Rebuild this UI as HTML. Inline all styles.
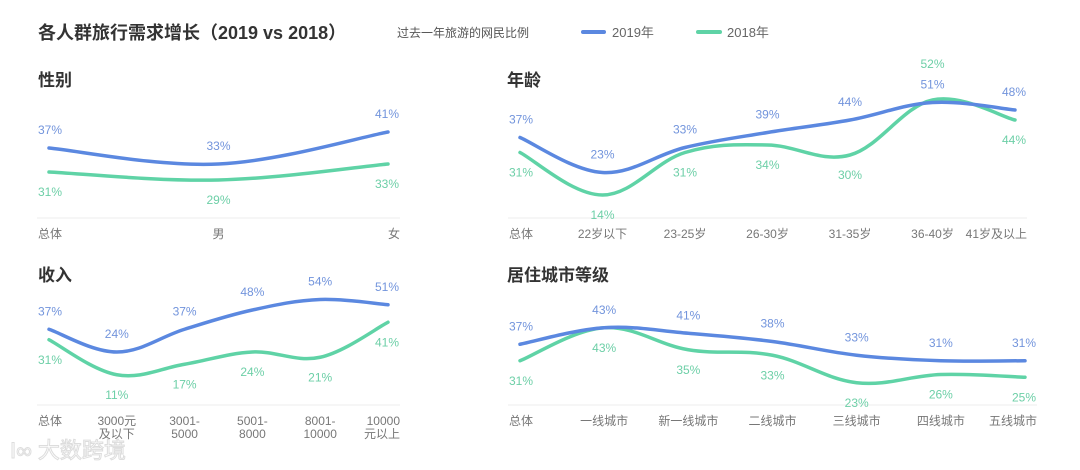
<!DOCTYPE html>
<html><head><meta charset="utf-8">
<style>
body{margin:0;background:#fff;font-family:"Liberation Sans","Noto Sans CJK SC",sans-serif;}
svg{display:block}
</style></head>
<body>
<svg id="chart" width="1080" height="470" viewBox="0 0 1080 470">
  <text x="38" y="39" font-size="18" font-weight="bold" fill="#333">各人群旅行需求增长（2019 vs 2018）</text>
  <text x="397" y="37" font-size="12" fill="#555">过去一年旅游的网民比例</text>
  <g>
    <g>
      <line x1="583" y1="32" x2="604" y2="32" stroke="#5b88e0" stroke-width="4" stroke-linecap="round"/>
      <text x="612" y="37" font-size="13" fill="#666">2019年</text>
    </g>
    <g>
      <line x1="698" y1="32" x2="720" y2="32" stroke="#5fd3a6" stroke-width="4" stroke-linecap="round"/>
      <text x="727" y="37" font-size="13" fill="#666">2018年</text>
    </g>
  </g>
  <text x="10" y="458" font-size="22" fill="#fff" stroke="#ddd" stroke-width="1">I∞ 大数跨境</text>
</svg>
<script>
// Panel 1: 性别
const genderCats = ["总体","男","女"];
const gender2019 = [37,33,41];
const gender2018 = [31,29,33];
// Panel 2: 年龄
const ageCats = ["总体","22岁以下","23-25岁","26-30岁","31-35岁","36-40岁","41岁及以上"];
const age2019 = [37,23,33,39,44,51,48];
const age2018 = [31,14,31,34,30,52,44];
// Panel 3: 收入
const incomeCats = [["总体"],["3000元","及以下"],["3001-","5000"],["5001-","8000"],["8001-","10000"],["10000","元以上"]];
const income2019 = [37,24,37,48,54,51];
const income2018 = [31,11,17,24,21,41];
// Panel 4: 居住城市等级
const cityCats = ["总体","一线城市","新一线城市","二线城市","三线城市","四线城市","五线城市"];
const city2019 = [37,43,41,38,33,31,31];
const city2018 = [31,43,35,33,23,26,25];

const svg = document.getElementById('chart');
const NS = 'http://www.w3.org/2000/svg';
const BLUE = '#5b88e0', GREEN = '#5fd3a6', BLUE_T = '#7294dc', GREEN_T = '#6dcfa7';

function mk(tag, attrs){ const e=document.createElementNS(NS,tag); for(const k in attrs) e.setAttribute(k,attrs[k]); return e; }

function smoothPath(pts){
  let d = `M${pts[0][0]},${pts[0][1]}`;
  for(let i=0;i<pts.length-1;i++){
    const p0=pts[i-1]||pts[i], p1=pts[i], p2=pts[i+1], p3=pts[i+2]||p2;
    const t=0.18;
    const c1x=p1[0]+(p2[0]-p0[0])*t, c1y=p1[1]+(p2[1]-p0[1])*t;
    const c2x=p2[0]-(p3[0]-p1[0])*t, c2y=p2[1]-(p3[1]-p1[1])*t;
    d+=` C${c1x},${c1y} ${c2x},${c2y} ${p2[0]},${p2[1]}`;
  }
  return d;
}

function panel(cfg){
  const g = mk('g',{});
  
  
  svg.appendChild(g);
  const title = mk('text',{x:cfg.tx,y:cfg.ty,'font-size':17,'font-weight':'bold',fill:'#333'});
  
  
  title.textContent = cfg.title;
  g.appendChild(title);
  const n = cfg.cats.length;
  const xS = i => cfg.x0 + (cfg.x1-cfg.x0)*i/(n-1);
  const yS = v => cfg.a - v*cfg.b;
  const axis = mk('line',{x1:cfg.x0-12,x2:cfg.x1+12,y1:cfg.axisY,y2:cfg.axisY,stroke:'#eee','stroke-width':1});
  
  
  g.appendChild(axis);
  cfg.cats.forEach((c,i)=>{
    const lines = Array.isArray(c)?c:[c];
    const anchor = i===0?'start':(i===n-1?'end':'middle');
    const x = i===0?xS(i)-11:(i===n-1?xS(i)+12:xS(i));
    const t = mk('text',{x:x,y:cfg.axisY+20,'font-size':12,fill:'#777','text-anchor':anchor});
    
    
    lines.forEach((l,j)=>{ const s=mk('tspan',{x:x,dy:j?13:0}); s.textContent=l; t.appendChild(s); });
    g.appendChild(t);
  });
  [[cfg.s18,GREEN,'2018'],[cfg.s19,BLUE,'2019']].forEach(([arr,col,yr])=>{
    const p = mk('path',{d:smoothPath(arr.map((v,i)=>[xS(i),yS(v)])),fill:'none',stroke:col,'stroke-width':3.5,'stroke-linecap':'round'});
    
    
    g.appendChild(p);
  });
  cfg.s19.forEach((b,i)=>{
    const gr = cfg.s18[i];
    const x = i===0?xS(i)-11:(i===n-1?xS(i)+11:xS(i));
    const anchor = i===0?'start':(i===n-1?'end':'middle');
    let by, gy;
    if(gr>b && gr-b<3){ by=yS(b)-14; gy=yS(gr)-32; }
    else if(gr>b){ gy=yS(gr)-14; by=yS(b)+24; }
    else { by=yS(b)-14; gy=yS(gr)+24; }
    const tb = mk('text',{x:x,y:by,'font-size':12,fill:BLUE_T,'text-anchor':anchor});
    
    
    tb.textContent = b+'%'; g.appendChild(tb);
    const tg = mk('text',{x:x,y:gy,'font-size':12,fill:GREEN_T,'text-anchor':anchor});
    
    
    tg.textContent = gr+'%'; g.appendChild(tg);
  });
}

panel({name:'gender-panel',title:'性别',tx:38,ty:86,cats:genderCats,s19:gender2019,s18:gender2018,x0:49,x1:388,a:296,b:4,axisY:218});
panel({name:'age-panel',title:'年龄',tx:507,ty:86,cats:ageCats,s19:age2019,s18:age2018,x0:520,x1:1015,a:230,b:2.5,axisY:218});
panel({name:'income-panel',title:'收入',tx:38,ty:281,cats:incomeCats,s19:income2019,s18:income2018,x0:49,x1:388,a:394,b:1.75,axisY:405});
panel({name:'city-panel',title:'居住城市等级',tx:507,ty:281,cats:cityCats,s19:city2019,s18:city2018,x0:520,x1:1025,a:446,b:2.75,axisY:405});
</script>
</body></html>
